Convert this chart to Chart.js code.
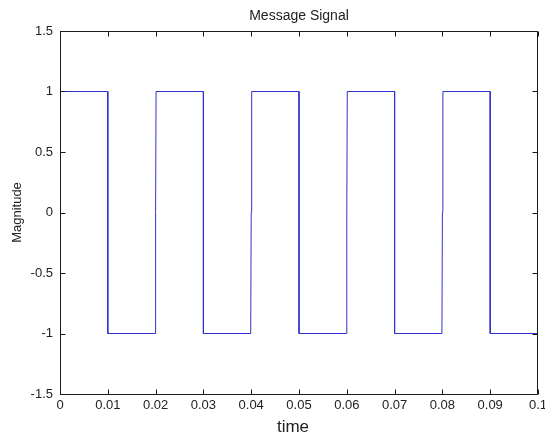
<!DOCTYPE html>
<html>
<head>
<meta charset="utf-8">
<script src="https://cdn.jsdelivr.net/npm/chart.js@4/dist/chart.umd.min.js"></script>
<style>
  html, body { margin: 0; padding: 0; background: #ffffff; }
  #wrap { width: 545px; height: 434px; position: relative; }
</style>
</head>
<body>
<div id="wrap"><canvas id="sig"></canvas></div>
<script>
// Square-wave message signal, one sample pair at every edge
const time = [0, 0.01, 0.01, 0.0199, 0.02, 0.0201, 0.03, 0.03, 0.0399, 0.04, 0.0401,
              0.05, 0.05, 0.0599, 0.06, 0.0601, 0.07, 0.07, 0.0799, 0.08, 0.0801,
              0.09, 0.09, 0.1];
const magnitude = [1, 1, -1, -1, 0, 1, 1, -1, -1, 0, 1,
                   1, -1, -1, 0, 1, 1, -1, -1, 0, 1,
                   1, -1, -1];

const xTickValues = [0, 0.01, 0.02, 0.03, 0.04, 0.05, 0.06, 0.07, 0.08, 0.09, 0.1];
const xTickLabels = ['0', '0.01', '0.02', '0.03', '0.04', '0.05', '0.06', '0.07', '0.08', '0.09', '0.1'];
const yTickValues = [-1.5, -1, -0.5, 0, 0.5, 1, 1.5];
const yTickLabels = ['-1.5', '-1', '-0.5', '0', '0.5', '1', '1.5'];

const titleText = 'Message Signal';
const xTitle = 'time';
const yTitle = 'Magnitude';

const FONT = '"Liberation Sans", Arial, Helvetica, sans-serif';
const INK = '#222222';

// Axes box, inward tick marks and the three text labels
const axesDecor = {
  id: 'axesDecor',
  afterDraw(chart) {
    const { ctx, chartArea: a, scales } = chart;
    const L = a.left + 0.5, R = a.right - 0.5, T = a.top + 0.5, B = a.bottom + 0.5;
    const tick = 5;
    ctx.save();
    ctx.strokeStyle = '#1a1a1a';
    ctx.lineWidth = 1;
    ctx.beginPath();
    ctx.rect(L, T, R - L, B - T);
    scales.x.ticks.forEach(t => {
      const px = Math.round(scales.x.getPixelForValue(t.value)) + 0.5;
      ctx.moveTo(px, B); ctx.lineTo(px, B - tick);
      ctx.moveTo(px, T); ctx.lineTo(px, T + tick);
    });
    scales.y.ticks.forEach(t => {
      const py = Math.round(scales.y.getPixelForValue(t.value)) + 0.5;
      ctx.moveTo(L, py); ctx.lineTo(L + tick, py);
      ctx.moveTo(R, py); ctx.lineTo(R - tick, py);
    });
    ctx.stroke();

    ctx.fillStyle = INK;
    ctx.textAlign = 'center';
    ctx.textBaseline = 'alphabetic';
    ctx.font = '14px ' + FONT;
    ctx.fillText(titleText, (a.left + a.right) / 2, 20);
    ctx.font = '17px ' + FONT;
    ctx.fillText(xTitle, (a.left + a.right) / 2 - 6, 432);
    ctx.font = '13px ' + FONT;
    ctx.translate(21, (a.top + a.bottom) / 2);
    ctx.rotate(-Math.PI / 2);
    ctx.fillText(yTitle, 0, 0);
    ctx.restore();
  }
};

new Chart(document.getElementById('sig'), {
  type: 'line',
  data: {
    datasets: [{
      data: time.map((t, i) => ({ x: t, y: magnitude[i] })),
      borderColor: 'rgb(48,48,205)',
      borderWidth: 1,
      pointRadius: 0,
      tension: 0,
      fill: false
    }]
  },
  options: {
    responsive: true,
    maintainAspectRatio: false,
    animation: false,
    devicePixelRatio: 1,
    layout: { padding: { top: 31, right: 7, left: 0, bottom: 0 } },
    plugins: { legend: { display: false }, title: { display: false }, tooltip: { enabled: false } },
    scales: {
      x: {
        type: 'linear',
        min: 0, max: 0.1,
        grid: { display: false, drawTicks: false },
        border: { display: false },
        afterBuildTicks(scale) { scale.ticks = xTickValues.map(v => ({ value: v })); },
        afterFit(scale) { scale.height = 40; scale.paddingLeft = 0; scale.paddingRight = 0; },
        ticks: {
          color: INK,
          font: { family: FONT, size: 13 },
          padding: 4,
          maxRotation: 0,
          autoSkip: false,
          callback: (v, i) => xTickLabels[i]
        }
      },
      y: {
        type: 'linear',
        min: -1.5, max: 1.5,
        grid: { display: false, drawTicks: false },
        border: { display: false },
        afterBuildTicks(scale) { scale.ticks = yTickValues.map(v => ({ value: v })); },
        afterFit(scale) { scale.width = 60; scale.paddingTop = 0; scale.paddingBottom = 0; },
        ticks: {
          color: INK,
          font: { family: FONT, size: 13 },
          padding: 7,
          autoSkip: false,
          callback: (v, i) => yTickLabels[i]
        }
      }
    }
  },
  plugins: [axesDecor]
});
</script>
</body>
</html>
